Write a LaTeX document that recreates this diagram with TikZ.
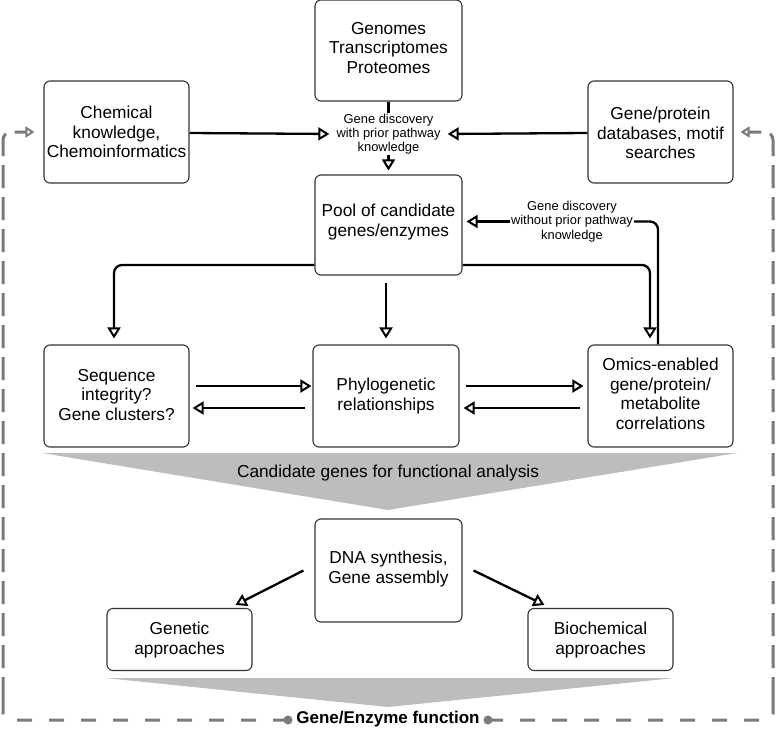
\documentclass[tikz,border=0pt]{standalone}
\usepackage{fontspec}
\setmainfont{Liberation Sans}
\usetikzlibrary{arrows.meta}
\begin{document}
\begin{tikzpicture}[x=1pt,y=-1pt,
  box/.style={draw=black!80, line width=1.1pt, rounded corners=6pt, inner sep=0pt},
  txt/.style={align=center, font=\fontsize{17.3}{19.5}\selectfont, inner sep=1pt},
  small/.style={align=center, font=\fontsize{12.9}{14.2}\selectfont, inner sep=1pt, fill=white},
  arr/.style={line width=2.3pt, -{Triangle[open, length=11pt, width=13pt, line width=2pt]}},
  plain/.style={line width=2.3pt},
  fbloop/.style={draw=black!52, line width=3pt},
  fbtip/.style={-{Triangle[open, length=9pt, width=11pt, line width=2pt]}},
  funnel/.style={fill=black!26}
]
\useasboundingbox (0,0) rectangle (777,729);

% funnels
\fill[funnel] (42,453) -- (737,453) -- (388,510) -- cycle;
\fill[funnel] (105,678) -- (675,678) -- (388,707) -- cycle;
\node[txt] (tfun) at (388,473) {Candidate genes for functional analysis};

% boxes
\node[box, minimum width=147pt, minimum height=101pt] (gen) at (388.5,50.5) {};
\node[box, minimum width=145pt, minimum height=102pt] (chem) at (116.5,132) {};
\node[box, minimum width=145pt, minimum height=102pt] (gpdb) at (660.5,132) {};
\node[box, minimum width=147pt, minimum height=100pt] (pool) at (388.5,225) {};
\node[box, minimum width=145pt, minimum height=102pt] (seq) at (116.5,396) {};
\node[box, minimum width=146pt, minimum height=102pt] (phylo) at (386,396) {};
\node[box, minimum width=145pt, minimum height=102pt] (omics) at (660.5,396) {};
\node[box, minimum width=147pt, minimum height=103pt] (dna) at (388.5,570.5) {};
\node[box, minimum width=145pt, minimum height=62pt] (genet) at (179.5,639.5) {};
\node[box, minimum width=145pt, minimum height=62pt] (bio) at (600.5,639.5) {};

% texts
\node[txt] (tgen) at (388.5,48) {Genomes\\Transcriptomes\\Proteomes};
\node[txt] (tchem) at (116.5,132) {Chemical\\knowledge,\\Chemoinformatics};
\node[txt] (tgp) at (660.5,133) {Gene/protein\\databases, motif\\searches};
\node[txt] (tpool) at (388.5,222) {Pool of candidate\\genes/enzymes};
\node[txt] (tseq) at (116.5,395) {Sequence\\integrity?\\Gene clusters?};
\node[txt] (tphy) at (386,396) {Phylogenetic\\relationships};
\node[txt] (tomics) at (660.5,394) {Omics-enabled\\gene/protein/\\metabolite\\correlations};
\node[txt] (tdna) at (388.5,569) {DNA synthesis,\\Gene assembly};
\node[txt] (tgenet) at (179.5,640) {Genetic\\approaches};
\node[txt] (tbio) at (600.5,640) {Biochemical\\approaches};

% labels
\node[small] (gd1) at (388.5,134) {Gene discovery\\with prior pathway\\knowledge};
\node[small] (gd2) at (572,221.5) {Gene discovery\\without prior pathway\\knowledge};

% helper coordinates
\coordinate (p1) at (0,265);
\coordinate (ox) at (650,0);
\coordinate (fx) at (658,0);
\coordinate (sx) at (114,0);
\coordinate (ya) at (0,386);
\coordinate (yb) at (0,408);
\coordinate (yc) at (0,133);

% top connectors
\draw[plain] (gen.south) -- (gd1.north);
\draw[arr, shorten >=4pt] (gd1.south) -- (pool.north);
\draw[arr, shorten >=6pt] (chem.east |- yc) -- (gd1.west);
\draw[arr, shorten >=6pt] (gpdb.west |- yc) -- (gd1.east);

% pool outputs
\draw[arr, rounded corners=8pt, shorten >=6pt] (pool.west |- p1) -| (sx |- seq.north);
\draw[arr, rounded corners=8pt, shorten >=6pt] (pool.east |- p1) -| (ox |- omics.north);
\draw[arr, shorten <=7pt, shorten >=6pt] (pool.south -| phylo.north) -- (phylo.north);

% feedback from omics
\draw[plain, rounded corners=8pt] (fx |- omics.north) |- (gd2.east);
\draw[arr, shorten >=4pt] (gd2.west) -- (pool.east |- gd2.west);

% horizontal pairs
\draw[arr, shorten <=6pt, shorten >=1pt] (seq.east |- ya) -- (phylo.west |- ya);
\draw[arr, shorten <=7pt, shorten >=3pt] (phylo.west |- yb) -- (seq.east |- yb);
\draw[arr, shorten <=6pt, shorten >=4pt] (phylo.east |- ya) -- (omics.west |- ya);
\draw[arr, shorten <=7pt, shorten >=4pt] (omics.west |- yb) -- (phylo.east |- yb);

% DNA outputs
\draw[arr] ([xshift=-11pt]dna.west) -- ([xshift=-17pt,yshift=3pt]genet.north east);
\draw[arr] ([xshift=11pt]dna.east) -- ([xshift=17pt,yshift=3pt]bio.north west);

% bottom function label and feedback loop
\node[font=\bfseries\fontsize{17}{20}\selectfont, inner sep=1pt] (tfn) at (388,719) {Gene/Enzyme function};
\coordinate (dl) at (288,720);
\coordinate (dr) at (488,720);
\coordinate (lc) at (3,132);
\coordinate (rc) at (773,132);
\draw[fbloop, dash pattern=on 15pt off 17pt, rounded corners=6pt] (dl) -- (3,720) -- (3,700);
\draw[fbloop, dash pattern=on 23pt off 9pt, rounded corners=8pt, fbtip, shorten >=9pt] (3,700) -- (lc) -- (chem.west |- lc);
\draw[fbloop, dash pattern=on 15pt off 17pt, rounded corners=6pt] (dr) -- (773,720) -- (773,700);
\draw[fbloop, dash pattern=on 23pt off 9pt, rounded corners=8pt, fbtip, shorten >=7pt] (773,700) -- (rc) -- (gpdb.east |- rc);
\fill[black!52] (dl) circle (4.5pt);
\fill[black!52] (dr) circle (4.5pt);
\end{tikzpicture}
\end{document}
